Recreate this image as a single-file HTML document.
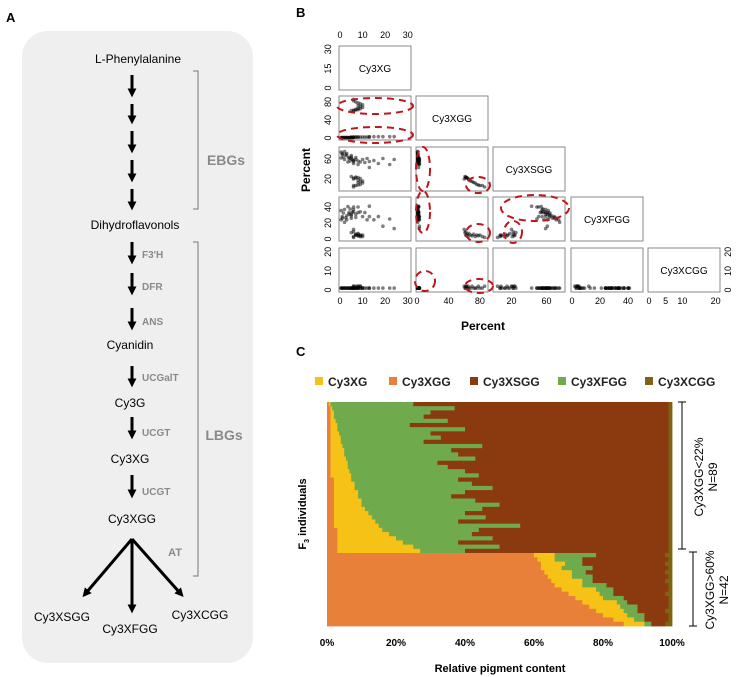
<!DOCTYPE html>
<html><head><meta charset="utf-8"><style>
html,body{margin:0;padding:0;background:#fff;}
svg{display:block;font-family:"Liberation Sans",Arial,sans-serif;}
</style></head><body>
<svg id="fig" width="738" height="677" viewBox="0 0 738 677">
<defs>
<marker id="ah" viewBox="0 0 10 10" refX="4" refY="5" markerWidth="3" markerHeight="3" orient="auto-start-reverse" markerUnits="strokeWidth">
<path d="M0,0 L10,5 L0,10 z" fill="#000"/>
</marker>
</defs>
<g>
<text x="6" y="22" font-size="13" font-weight="bold">A</text>
<rect x="22" y="31" width="231" height="632" rx="26" fill="#efefef"/>
<g id="pathway" font-size="12" text-anchor="middle" fill="#000"></g>
</g>
<g>
<text x="296" y="17" font-size="13" font-weight="bold">B</text>
<g id="scatter"></g>
<text transform="translate(310,170) rotate(-90)" font-size="12" font-weight="bold" text-anchor="middle">Percent</text>
<text x="483" y="330" font-size="12" font-weight="bold" text-anchor="middle">Percent</text>
</g>
<g>
<text x="296" y="356" font-size="13" font-weight="bold">C</text>
<g id="bars"></g>
<g id="legend" font-size="12" font-weight="bold" fill="#222"></g>
<g id="xticks" font-size="10" font-weight="bold" text-anchor="middle"></g>
<text x="500" y="672" font-size="11" font-weight="bold" text-anchor="middle">Relative pigment content</text>
<text transform="translate(306,514) rotate(-90)" font-size="11" font-weight="bold" text-anchor="middle">F<tspan font-size="7" dy="3">3</tspan><tspan dy="-3"> individuals</tspan></text>
<g stroke="#000" stroke-width="1">
<line x1="682" y1="402" x2="682" y2="549"/><line x1="678" y1="402" x2="686" y2="402"/><line x1="678" y1="549" x2="686" y2="549"/>
<line x1="693" y1="552" x2="693" y2="626"/><line x1="689" y1="552" x2="697" y2="552"/><line x1="689" y1="626" x2="697" y2="626"/>
</g>
<text transform="translate(703,477) rotate(-90)" font-size="12" text-anchor="middle">Cy3XGG&lt;22%</text>
<text transform="translate(717,477) rotate(-90)" font-size="12" text-anchor="middle">N=89</text>
<text transform="translate(714,590) rotate(-90)" font-size="12" text-anchor="middle">Cy3XGG&gt;60%</text>
<text transform="translate(728,590) rotate(-90)" font-size="12" text-anchor="middle">N=42</text>
</g>
</svg>
<script>
const compounds = ["Cy3XG","Cy3XGG","Cy3XSGG","Cy3XFGG","Cy3XCGG"];
const xg   = [0.5,0.5,1,1,1.5,2,2,2.5,3,3,3.5,4,4,4.5,5,5,5.5,6,5,6,6,7,7,8,8,9,10,11,12,13,13,15,17,19,22,24, 6,5,7,6,8,7,9,8,10,9,8,10,9,8,7,6,6];
const xgg  = [0.5,1,1,1,1,1,1,1,1,1,1,1,1,1,1,1,1,1,2,2,2,2,2,2,2,2,2,2,2,2,3,3,3,3,3,3, 60,61,62,62,63,64,65,66,68,70,72,74,76,78,80,83,86];
const xsgg = [74,62,69,71,64,75,59,69,66,71,54,63,61,56,67,64,59,55,61,57,51,59,63,56,49,54,59,53,61,43,55,57,51,61,49,59, 20,25,24,22,23,22,21,18,16,15,13,12,9,8,7,7,4];
const xfgg = [24,35.5,28,26,32.5,21,37,26.5,29,24,40.5,31,33,37.5,26,29,33.5,37,31,34,40,31,27,33,40,34,28,33,24,41,28,24,28,16,25,13, 12,8,5,9,4,6,3,7,5,4,6,3,5,4,5,3,2];
const xcgg = [1,1,1,1,1,1,1,1,1,1,1,1,1,1,1,1,1,1,1,1,1,1,1,1,1,1,1,1,1,1,1,1,1,1,1,1, 2,1,2,1,2,1,2,1,1,2,1,1,1,2,1,1,2];
const groupSizes = [36,17];
const xTickLabels = ["0%","20%","40%","60%","80%","100%"];
const xTickValues = [0,20,40,60,80,100];
const domainMax = [31,89,80,50,21];
const tickVals = [[0,10,20,30],[0,40,80],[20,60],[0,20,40],[0,5,10,20]];
const yTickVals = [[0,15,30],[0,40,80],[20,60],[0,20,40],[0,10,20]];

const NS="http://www.w3.org/2000/svg";
function mk(tag,attrs,parent){const e=document.createElementNS(NS,tag);for(const k in attrs)e.setAttribute(k,attrs[k]);if(parent)parent.appendChild(e);return e;}

const pw=document.getElementById('pathway');
const nodes=[["L-Phenylalanine",138,63],["Dihydroflavonols",135,229],["Cyanidin",130,349],["Cy3G",130,407],["Cy3XG",130,463],["Cy3XGG",132,523],["Cy3XSGG",62,621],["Cy3XFGG",130,633],["Cy3XCGG",200,619]];
nodes.forEach(n=>{const t=mk('text',{x:n[1],y:n[2]},pw);t.textContent=n[0];

});
const arrows=[[75,98],[104,125],[131,154],[160,183],[189,211],[242,265],[273,296],[308,331],[366,388],[417,440],[475,499]];
arrows.forEach(a=>{const l=mk('line',{x1:132,y1:a[0],x2:132,y2:a[1]-6,stroke:'#000','stroke-width':3,'marker-end':'url(#ah)'},pw);

});
[[86,593],[132,608],[180,593]].forEach(p=>{const l=mk('line',{x1:132,y1:539,x2:p[0],y2:p[1],stroke:'#000','stroke-width':3,'marker-end':'url(#ah)'},pw);

});
const enz=[["F3'H",254],["DFR",286],["ANS",321],["UCGalT",377],["UCGT",432],["UCGT",491]];
enz.forEach(e=>{const t=mk('text',{x:142,y:e[1]+4,'font-size':10,'font-weight':'bold',fill:'#8a8a8a','text-anchor':'start'},pw);t.textContent=e[0];

});
const at=mk('text',{x:175,y:556,'font-size':11,'font-weight':'bold',fill:'#8a8a8a'},pw);at.textContent='AT';


[[71,209],[242,576]].forEach(b=>{const p=mk('path',{d:`M193,${b[0]} H198 V${b[1]} H193`,fill:'none',stroke:'#777','stroke-width':1},pw);

});
[["EBGs",226,165],["LBGs",224,440]].forEach(l=>{const t=mk('text',{x:l[1],y:l[2],'font-size':14,'font-weight':'bold',fill:'#8a8a8a'},pw);t.textContent=l[0];

});

const sc=document.getElementById('scatter');
const colX=[339,416,493,571,648], rowY=[46,96,147,197,248], cw=72, ch=44;
const series=[xg,xgg,xsgg,xfgg,xcgg];
function sx(c,v){return colX[c]+1+v/domainMax[c]*(cw-2);}
function sy(r,v){return rowY[r]+ch-2-v/domainMax[r]*(ch-4);}
for(let r=0;r<5;r++){for(let c=0;c<=r;c++){
 const box=mk('rect',{x:colX[c],y:rowY[r],width:cw,height:ch,fill:'#fff',stroke:'#888','stroke-width':1},sc);
 
 
 if(r===c){const t=mk('text',{x:colX[c]+cw/2,y:rowY[r]+ch/2+4,'font-size':10,'text-anchor':'middle'},sc);t.textContent=compounds[r];
  
  }
 else{for(let i=0;i<xg.length;i++){const p=mk('circle',{cx:sx(c,series[c][i]),cy:sy(r,series[r][i]),r:1.8,fill:'#000','fill-opacity':0.5},sc);
  
  }}
}}
tickVals[0].forEach(v=>{const t=mk('text',{x:sx(0,v),y:38,'font-size':9,'text-anchor':'middle'},sc);t.textContent=v;
 
 });
for(let c=0;c<5;c++){tickVals[c].forEach(v=>{const t=mk('text',{x:sx(c,v),y:304,'font-size':9,'text-anchor':'middle'},sc);t.textContent=v;
 
 });}
for(let r=0;r<5;r++){yTickVals[r].forEach(v=>{const t=mk('text',{transform:`translate(331,${sy(r,v)}) rotate(-90)`,'font-size':9,'text-anchor':'middle'},sc);t.textContent=v;
 
 });}
yTickVals[4].forEach(v=>{const t=mk('text',{transform:`translate(731,${sy(4,v)}) rotate(-90)`,'font-size':9,'text-anchor':'middle'},sc);t.textContent=v;
 
 });
const ells=[[375,106,38,8],[375,135,38,8],[423,169,7,22],[478,185,12,8],[423,212,7,21],[478,233,12,9],[535,208,34,13],[513,232,9,11],[425,281,10,10],[479,286,14,7]];
ells.forEach(e=>{const el=mk('ellipse',{cx:e[0],cy:e[1],rx:e[2],ry:e[3],fill:'none',stroke:'#c0161c','stroke-width':2,'stroke-dasharray':'7 5'},sc);
 
 });

const colors={Cy3XG:'#f6c216',Cy3XGG:'#e8803a',Cy3XSGG:'#8b3a10',Cy3XFGG:'#6faa4c',Cy3XCGG:'#7d6412'};
const order=[["Cy3XGG",xgg],["Cy3XG",xg],["Cy3XFGG",xfgg],["Cy3XSGG",xsgg],["Cy3XCGG",xcgg]];
const bx0=327,bx1=672,by0=402,by1=626;
const g1h=151;
function xs(v){return bx0+v/100*(bx1-bx0);}
const bg=document.getElementById('bars');
for(let i=0;i<xg.length;i++){
 let y,h;
 if(i<groupSizes[0]){h=g1h/groupSizes[0];y=by0+i*h;}else{h=(by1-by0-g1h)/groupSizes[1];y=by0+g1h+(i-groupSizes[0])*h;}
 let tot=0;order.forEach(o=>tot+=o[1][i]);
 let acc=0;
 order.forEach(o=>{const v=o[1][i]/tot*100;
  const r=mk('rect',{x:xs(acc),y:y,width:Math.max(0,xs(acc+v)-xs(acc))+0.4,height:h+0.4,fill:colors[o[0]]},bg);
  
  
  acc+=v;});
}
const lg=document.getElementById('legend');
const lx=[315,389,470,558,645];
compounds.forEach((c,k)=>{const s=mk('rect',{x:lx[k],y:377,width:8,height:8,fill:colors[c]},lg);
 
 
 const t=mk('text',{x:lx[k]+13,y:386},lg);t.textContent=c;
 
 });
const xt=document.getElementById('xticks');
xTickValues.forEach((v,k)=>{const t=mk('text',{x:xs(v),y:646},xt);t.textContent=xTickLabels[k];
 
 });
</script>
</body></html>
